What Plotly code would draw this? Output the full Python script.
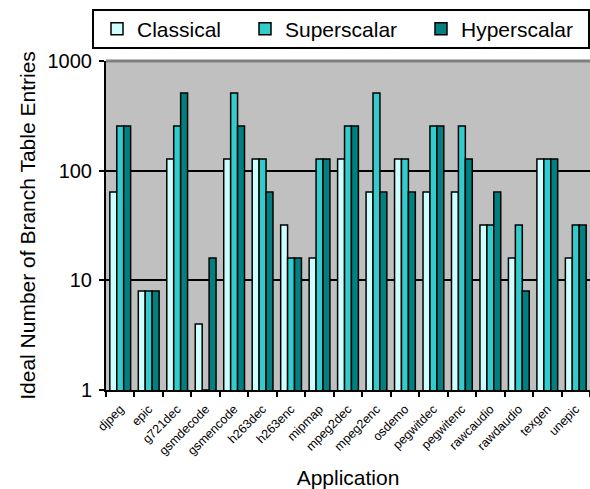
import plotly.graph_objects as go

# Branch table size per application, three predictor configurations
applications = ["djpeg", "epic", "g721dec", "gsmdecode", "gsmencode", "h263dec",
                "h263enc", "mipmap", "mpeg2dec", "mpeg2enc", "osdemo", "pegwitdec",
                "pegwitenc", "rawcaudio", "rawdaudio", "texgen", "unepic"]
classical = [64, 8, 128, 4, 128, 128, 32, 16, 128, 64, 128, 64, 64, 32, 16, 128, 16]
superscalar = [256, 8, 256, 1, 512, 128, 16, 128, 256, 512, 128, 256, 256, 32, 32, 128, 32]
hyperscalar = [256, 8, 512, 16, 256, 64, 16, 128, 256, 64, 64, 256, 128, 64, 8, 128, 32]

y_ticks = [1, 10, 100, 1000]
y_tick_text = ["1", "10", "100", "1000"]

W, H = 590, 489
ML, MR, MT, MB = 106, 0, 61, 99
PW, PH = W - ML - MR, H - MT - MB

FONT = "Liberation Sans, Arial, sans-serif"


def px_x(px):
    return (px - ML) / PW


def px_y(py):
    return (H - MB - py) / PH


series = [
    ("Classical", classical, "#CCFFFF", "legend", 97),
    ("Superscalar", superscalar, "#33CCCC", "legend2", 245),
    ("Hyperscalar", hyperscalar, "#008080", "legend3", 421),
]

fig = go.Figure()
for name, vals, color, leg, _ in series:
    fig.add_trace(go.Bar(
        x=applications, y=vals, name=name, legend=leg,
        marker=dict(color=color, line=dict(color="black", width=1.5)),
    ))

legend_common = dict(
    orientation="v", xanchor="left", yanchor="middle", y=px_y(29),
    bgcolor="rgba(0,0,0,0)", borderwidth=0,
    font=dict(family=FONT, size=21, color="black"),
)
layout_legends = {}
for name, vals, color, leg, left in series:
    layout_legends[leg] = dict(legend_common, x=px_x(left))

fig.update_layout(
    width=W, height=H,
    margin=dict(l=ML, r=MR, t=MT, b=MB, autoexpand=False),
    paper_bgcolor="white",
    plot_bgcolor="#C0C0C0",
    barmode="group",
    bargap=0.27,
    bargroupgap=0,
    showlegend=True,
    font=dict(family=FONT, color="black"),
    **layout_legends,
)

fig.update_xaxes(
    type="category",
    tickson="boundaries",
    ticks="outside", ticklen=5, tickwidth=1.5, tickcolor="black",
    tickangle=-45,
    ticklabelstandoff=5,
    tickfont=dict(family=FONT, size=12.5, color="black"),
    showline=True, linecolor="black", linewidth=2,
    showgrid=False,
    title=dict(text="Application", font=dict(family=FONT, size=21), standoff=18),
    automargin=False,
)

fig.update_yaxes(
    type="log",
    range=[0, 3],
    tickvals=y_ticks, ticktext=y_tick_text,
    ticks="outside", ticklen=5, tickwidth=1.5, tickcolor="black",
    ticklabelstandoff=3,
    tickfont=dict(family=FONT, size=20, color="black"),
    showline=True, linecolor="black", linewidth=2,
    showgrid=True, gridcolor="black", gridwidth=1.5,
    zeroline=False,
    title=dict(text="Ideal Number of Branch Table Entries",
               font=dict(family=FONT, size=21), standoff=6),
    automargin=False,
)

# Shaded top edge of the plotting area
fig.add_shape(type="line", xref="paper", yref="paper", x0=0, x1=1, y0=1, y1=1,
              line=dict(color="#808080", width=3), layer="above")

# Frame around the legend entries
fig.add_shape(type="rect", xref="paper", yref="paper",
              x0=px_x(93), x1=px_x(589), y0=px_y(48), y1=px_y(10),
              line=dict(color="black", width=2), fillcolor="white", layer="below")

fig.write_html("out.html")
